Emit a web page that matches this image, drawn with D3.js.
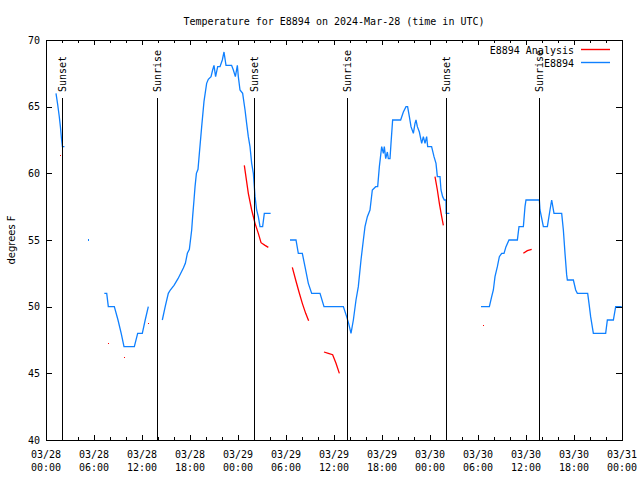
<!DOCTYPE html>
<html><head><meta charset="utf-8">
<script src="https://cdn.jsdelivr.net/npm/d3@7"></script>
<style>body{margin:0;background:#fff}svg{display:block}</style>
</head><body>
<svg id="c" width="640" height="480"></svg>
<script>
// ---- data (hours since 2024-03-28 00:00 UTC, temperature °F) ----
const startDate = "2024-03-28T00:00:00Z";
const titleText = "Temperature for E8894 on 2024-Mar-28 (time in UTC)";
const yTicks = [40, 45, 50, 55, 60, 65, 70];
const seriesNames = ["E8894 Analysis", "E8894"];

const obsSegments = [
  [[1.25,66],[1.45,65.2],[1.65,64.3],[1.8,63.5],[1.95,62.5],[2.05,62],[2.3,62]],
  [[7.29,51],[7.59,51],[7.79,50],[8.54,50],[9.0,49],[9.4,48],[9.75,47],[11.04,47],[11.46,48],[12.04,48],[12.4,49],[12.79,50]],
  [[14.54,49],[14.9,50],[15.29,51],[15.54,51.25],[16.0,51.6],[16.5,52.1],[17.17,52.9],[17.42,53.25],[17.67,54],[17.92,54.3],[18.21,55.75],[18.33,56.75],[18.5,58],[18.63,59],[18.8,60],[19.0,60.3],[19.17,61.5],[19.46,63.5],[19.75,65.4],[20.08,66.75],[20.29,67.05],[20.63,67.25],[20.83,67.75],[21,68.1],[21.2,67.25],[21.46,68],[21.75,68],[22.04,68.5],[22.25,69.1],[22.5,68.1],[23.2,68.1],[23.42,67.75],[23.67,67.25],[23.92,68.1],[24.04,67.25],[24.25,66.25],[24.58,66],[24.88,64.75],[25.08,63.75],[25.29,62.75],[25.5,62],[25.71,60.75],[25.92,60],[26.13,58.25],[26.33,57.25],[26.54,56.75],[26.75,56],[27.08,56],[27.29,57],[28.08,57]],
  [[30.5,55],[31.25,55],[31.54,54],[32.04,54],[32.375,53],[32.79,51.75],[33.21,51],[34.25,51],[34.75,50],[37.17,50],[37.58,49.25],[37.83,48.75],[38.125,48],[38.42,49],[38.75,50.5],[39.04,51.5],[39.375,53.5],[39.67,55],[39.875,56],[40.17,56.75],[40.5,57.25],[40.79,58.75],[41.21,59],[41.46,59],[41.67,60.5],[41.96,62],[42.17,61.5],[42.29,62],[42.46,61.1],[42.67,61.6],[42.79,61.1],[43,61.1],[43.125,62.25],[43.33,64],[44.33,64],[44.67,64.6],[45,65],[45.2,65],[45.42,64.25],[45.625,63.5],[45.92,63],[46.125,63.75],[46.25,64],[46.42,63.5],[46.67,63.1],[46.96,62.25],[47.17,62.75],[47.375,62.25],[47.58,62.75],[47.71,62],[48.2,62],[48.5,61.25],[48.75,60.75],[48.92,59.75],[49.25,59.75],[49.375,58.75],[49.58,58.25],[49.79,58],[50,58],[50.02,57],[50.42,57]],
  [[54.375,50],[55.42,50],[55.71,50.75],[55.92,51.25],[56.125,52.25],[56.42,53],[56.67,53.75],[56.96,54],[57.25,54],[57.5,54.5],[57.875,55],[58.92,55],[59.125,56],[59.67,56],[59.875,57.5],[60,58],[61.67,58],[61.75,57.25],[62.17,56],[62.67,56],[63,57.25],[63.21,58],[63.5,57],[64.46,57],[64.67,55.75],[64.875,54],[65.08,52.4],[65.17,52],[65.92,52],[66.21,51.25],[66.42,51],[67.71,51],[67.875,50.25],[68.08,49.25],[68.42,48],[69.96,48],[70.17,49],[70.92,49],[71.21,50],[71.96,50]]
];
const obsDots = [[5.29,55]];

const anaSegments = [
  [[24.79,60.6],[25.29,58.5],[25.71,57.25],[26.13,56.25],[26.54,55.5],[26.88,54.8],[27.38,54.6],[27.79,54.45]],
  [[30.79,52.95],[31.21,52],[31.625,51.1],[32.04,50.25],[32.46,49.5],[32.83,48.95]],
  [[34.75,46.6],[35.29,46.5],[35.83,46.4],[36.25,45.75],[36.67,45.0]],
  [[48.625,59.75],[48.92,58.75],[49.17,57.75],[49.46,56.75],[49.67,56.1]],
  [[59.67,54],[60.17,54.2],[60.71,54.3]]
];
const anaDots = [[1.75,61.4],[7.79,47.3],[9.79,46.2],[12.79,48.8],[54.67,48.6]];

const sunEvents = [
  {h: 2.04, label: "Sunset"}, {h: 13.83, label: "Sunrise"},
  {h: 26.04, label: "Sunset"}, {h: 37.67, label: "Sunrise"},
  {h: 50.04, label: "Sunset"}, {h: 61.67, label: "Sunrise"}
];

// ---- drawing ----
(function draw() {
const svg = d3.select("#c");
const M = {l: 46, r: 622, t: 40, b: 440};
const t0 = new Date(startDate);
const hd = h => new Date(t0.getTime() + h * 3600e3);
const x = d3.scaleUtc().domain([hd(0), hd(72)]).range([M.l, M.r]);
const y = d3.scaleLinear().domain([40, 70]).range([M.b, M.t]);
const mono = "'DejaVu Sans Mono', 'Liberation Mono', monospace";
const RED = "#ff0000", BLUE = "#0f80ff";

svg.append("rect").attr("width", 640).attr("height", 480).attr("fill", "#fff");

svg.append("text").attr("x", 334).attr("y", 24.5).attr("text-anchor", "middle")
  .attr("font-family", mono).attr("font-size", 10).text(titleText);

svg.append("text").attr("transform", "translate(14.5,240) rotate(-90)")
  .attr("text-anchor", "middle").attr("font-family", "'DejaVu Sans', sans-serif")
  .attr("font-size", 10).text("degrees F");

const g = svg.append("g").attr("shape-rendering", "crispEdges");
const majorX = d3.range(0, 73, 6).map(hd);
const minorX = d3.range(0, 73, 2).filter(h => h % 6 !== 0).map(hd);
const axB = d3.axisBottom(x).tickValues(majorX).tickSize(-5).tickFormat("");
const axBm = d3.axisBottom(x).tickValues(minorX).tickSize(-3).tickFormat("");
const axT = d3.axisTop(x).tickValues(majorX).tickSize(-5).tickFormat("");
const axTm = d3.axisTop(x).tickValues(minorX).tickSize(-3).tickFormat("");
const axL = d3.axisLeft(y).tickValues(yTicks).tickSize(-6).tickFormat("");
const axR = d3.axisRight(y).tickValues(yTicks).tickSize(-6).tickFormat("");
[[axB, `translate(0,${M.b})`], [axBm, `translate(0,${M.b})`],
 [axT, `translate(0,${M.t})`], [axTm, `translate(0,${M.t})`],
 [axL, `translate(${M.l},0)`], [axR, `translate(${M.r},0)`]].forEach(([a, tr]) => {
  const ax = g.append("g").attr("transform", tr).call(a);
  ax.select(".domain").remove();
  ax.selectAll("line").attr("stroke", "#000");
});
g.append("rect").attr("x", M.l + 0.5).attr("y", M.t + 0.5)
  .attr("width", M.r - M.l).attr("height", M.b - M.t)
  .attr("fill", "none").attr("stroke", "#000");

const fmtD = d3.utcFormat("%m/%d"), fmtT = d3.utcFormat("%H:%M");
majorX.forEach(d => {
  const t = svg.append("text").attr("font-family", mono).attr("font-size", 10)
    .attr("text-anchor", "middle");
  t.append("tspan").attr("x", x(d)).attr("y", 457.5).text(fmtD(d));
  t.append("tspan").attr("x", x(d)).attr("y", 470.5).text(fmtT(d));
});
yTicks.forEach(v => {
  svg.append("text").attr("x", 40).attr("y", y(v) + 3.5).attr("text-anchor", "end")
    .attr("font-family", mono).attr("font-size", 10).text(v);
});

const line = d3.line().x(d => x(hd(d[0]))).y(d => y(d[1]));
const plot = svg.append("g");
plot.selectAll("path.ana").data(anaSegments).join("path").attr("class", "ana")
  .attr("d", line).attr("fill", "none").attr("stroke", RED).attr("stroke-width", 1.3);
plot.selectAll("rect.ad").data(anaDots).join("rect").attr("class", "ad")
  .attr("x", d => Math.round(x(hd(d[0])))).attr("y", d => Math.round(y(d[1])))
  .attr("width", 1).attr("height", 1).attr("fill", RED);
plot.selectAll("path.obs").data(obsSegments).join("path").attr("class", "obs")
  .attr("d", line).attr("fill", "none").attr("stroke", BLUE).attr("stroke-width", 1.3);
plot.selectAll("rect.od").data(obsDots).join("rect").attr("class", "od")
  .attr("x", d => Math.round(x(hd(d[0])))).attr("y", d => Math.round(y(d[1])) - 1)
  .attr("width", 1).attr("height", 2).attr("fill", BLUE);

sunEvents.forEach(e => {
  const px = Math.round(x(hd(e.h))) + 0.5;
  svg.append("line").attr("x1", px).attr("x2", px).attr("y1", 98).attr("y2", M.b)
    .attr("stroke", "#000").attr("stroke-width", 1).attr("shape-rendering", "crispEdges");
  svg.append("text").attr("transform", `translate(${px + 3.5},92) rotate(-90)`)
    .attr("font-family", mono).attr("font-size", 10).text(e.label);
});

[[seriesNames[0], RED, 49.5], [seriesNames[1], BLUE, 62.5]].forEach(([n, c, yy]) => {
  svg.append("text").attr("x", 574).attr("y", yy + 4).attr("text-anchor", "end")
    .attr("font-family", mono).attr("font-size", 10).text(n);
  svg.append("line").attr("x1", 581).attr("x2", 610).attr("y1", yy).attr("y2", yy)
    .attr("stroke", c).attr("stroke-width", 1.4);
});
})();
</script>
</body></html>
